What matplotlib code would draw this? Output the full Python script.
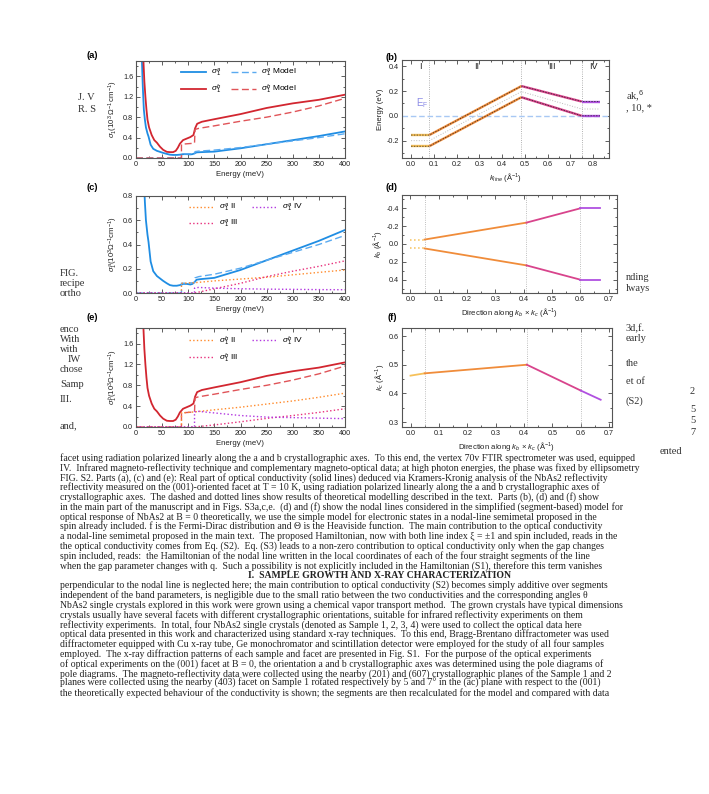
import matplotlib
matplotlib.use('Agg')
import matplotlib.pyplot as plt
from matplotlib.ticker import MultipleLocator

plt.rcParams['font.family'] = ['Liberation Sans', 'DejaVu Sans']
plt.rcParams['mathtext.fontset'] = 'custom'
plt.rcParams['mathtext.rm'] = 'Liberation Sans'
plt.rcParams['mathtext.it'] = 'Liberation Sans:italic'
plt.rcParams['axes.unicode_minus'] = False

# ---- optical conductivity, a axis
E_a = [11, 13, 15, 17, 19, 22, 24, 28, 33, 40, 46, 52, 59, 65, 71, 78, 84, 90, 97, 104,
       108, 112, 116, 125, 150, 200, 250, 300, 350, 400]
sig_a = [2.0, 1.4, 0.95, 0.75, 0.6, 0.48, 0.42, 0.26, 0.18, 0.14, 0.12, 0.1, 0.08, 0.065, 0.06,
         0.06, 0.065, 0.075, 0.075, 0.07, 0.075, 0.09, 0.11, 0.115, 0.125, 0.19, 0.27, 0.35, 0.43, 0.52]
# ---- optical conductivity, b axis
E_b = [14, 16, 18, 20, 22, 25, 30, 35, 40, 46, 52, 59, 65, 71, 76, 80, 84, 90, 97, 104,
       110, 113, 117, 126, 150, 200, 250, 300, 350, 400]
sig_b = [1.95, 1.5, 1.2, 0.95, 0.75, 0.6, 0.45, 0.35, 0.3, 0.22, 0.16, 0.12, 0.115, 0.115, 0.14,
         0.2, 0.28, 0.35, 0.38, 0.41, 0.45, 0.58, 0.67, 0.71, 0.76, 0.86, 0.98, 1.07, 1.14, 1.24]

# models
E_mod = [0, 87, 87, 112, 113, 120, 150, 200, 250, 300, 350, 400]
mod_a = [0, 0, 0.08, 0.085, 0.125, 0.135, 0.155, 0.205, 0.27, 0.335, 0.4, 0.475]
mod_b = [0, 0, 0.27, 0.29, 0.56, 0.58, 0.63, 0.72, 0.80, 0.90, 1.02, 1.17]

# model components
E_II = [0, 87, 87, 112, 150, 200, 250, 300, 350, 400]
E_III = [0, 112, 150, 200, 250, 300, 350, 400]
E_IV = [0, 112, 112, 120, 150, 200, 250, 300, 350, 400]
a_II = [0, 0, 0.08, 0.085, 0.1, 0.115, 0.13, 0.15, 0.17, 0.19]
a_III = [0, 0, 0.035, 0.08, 0.135, 0.18, 0.22, 0.265]
a_IV = [0, 0, 0.04, 0.046, 0.04, 0.035, 0.032, 0.03, 0.028, 0.027]
b_II = [0, 0, 0.27, 0.29, 0.33, 0.38, 0.44, 0.5, 0.57, 0.65]
b_III = [0, 0, 0.04, 0.1, 0.165, 0.22, 0.28, 0.35]
b_IV = [0, 0, 0.29, 0.3, 0.27, 0.22, 0.19, 0.18, 0.17, 0.16]

# ---- bands along the nodal line
k_line = [0.0, 0.08, 0.485, 0.75, 0.83]
band_up = [-0.155, -0.155, 0.24, 0.115, 0.115]
band_mid = [-0.2, -0.2, 0.195, 0.055, 0.055]
band_lo = [-0.245, -0.245, 0.15, 0.0, 0.0]
region_labels = ['I', 'II', 'III', 'IV']
region_pos = [0.04, 0.29, 0.62, 0.8]

# ---- nodal line geometry
k_dir = [0.0, 0.05, 0.41, 0.6, 0.67]
kb_top = [-0.05, -0.05, -0.24, -0.4, -0.4]
kb_bot = [0.05, 0.05, 0.24, 0.4, 0.4]
kc_vals = [0.462, 0.47, 0.50, 0.41, 0.378]

seg_col = ['#f6c15a', '#f08c3a', '#d8448c', '#b050e0']
blue = '#1f8de3'
red = '#d22630'
c_II = '#ff8a2a'
c_III = '#e8307c'
c_IV = '#b236e0'

W, H = 709, 794
fig = plt.figure(figsize=(W / 100, H / 100), dpi=100)


def box(l, r, t, b):
    return [l / W, 1 - b / H, (r - l) / W, (b - t) / H]


def style(ax, xmaj, xmin, ymaj, ymin):
    ax.xaxis.set_major_locator(MultipleLocator(xmaj))
    ax.xaxis.set_minor_locator(MultipleLocator(xmin))
    ax.yaxis.set_major_locator(MultipleLocator(ymaj))
    ax.yaxis.set_minor_locator(MultipleLocator(ymin))
    ax.tick_params(which='both', direction='in', top=True, right=True, width=0.6,
                   colors='#444444', labelsize=5.2, pad=2, labelcolor='#222222')
    ax.tick_params(which='major', length=3)
    ax.tick_params(which='minor', length=1.6)
    for s in ax.spines.values():
        s.set_linewidth(0.8)
        s.set_color('#555555')


lab = dict(fontsize=5.6, color='#222222', labelpad=2)

# (a)
ax = fig.add_axes(box(136, 345, 61, 158))
ax.plot(E_a, sig_a, color=blue, lw=1.3, label=r'$\sigma_1^a$')
ax.plot(E_b, sig_b, color=red, lw=1.3, label=r'$\sigma_1^b$')
ax.plot(E_mod, mod_a, color='#5aaaf0', lw=1.0, ls=(0, (5, 2.5)), label=r'$\sigma_1^a$ Model')
ax.plot(E_mod, mod_b, color='#e05458', lw=1.0, ls=(0, (5, 2.5)), label=r'$\sigma_1^b$ Model')
ax.set_xlim(0, 400)
ax.set_ylim(0, 1.9)
style(ax, 50, 25, 0.4, 0.2)
ax.set_xlabel('Energy (meV)', **lab)
ax.set_ylabel(r'$\sigma_1(10^3\,\Omega^{-1}\,\mathrm{cm}^{-1})$', **lab)
ax.legend(ncol=2, frameon=False, fontsize=6, loc='upper left', bbox_to_anchor=(0.2, 0.97),
          borderaxespad=0, handlelength=3.0, columnspacing=1.1, labelspacing=0.45, handletextpad=0.6)

# (c)
ax = fig.add_axes(box(136, 345, 196, 293))
ax.plot(E_a, sig_a, color=blue, lw=1.3)
ax.plot(E_mod, mod_a, color='#5aaaf0', lw=1.0, ls=(0, (5, 2.5)))
ax.plot(E_II, a_II, color=c_II, lw=1.0, ls=':', label=r'$\sigma_1^a$ II')
ax.plot(E_III, a_III, color=c_III, lw=1.0, ls=':', label=r'$\sigma_1^a$ III')
ax.plot(E_IV, a_IV, color=c_IV, lw=1.0, ls=':', label=r'$\sigma_1^a$ IV')
ax.set_xlim(0, 400)
ax.set_ylim(0, 0.8)
style(ax, 50, 25, 0.2, 0.1)
ax.set_xlabel('Energy (meV)', **lab)
ax.set_ylabel(r'$\sigma_1^a(10^3\Omega^{-1}\mathrm{cm}^{-1})$', **lab)
ax.legend(ncol=2, frameon=False, fontsize=6, loc='upper left', bbox_to_anchor=(0.24, 0.97),
          borderaxespad=0, handlelength=3.0, columnspacing=1.6, labelspacing=0.45, handletextpad=0.6)

# (e)
ax = fig.add_axes(box(136, 345, 328, 427))
ax.plot(E_b, sig_b, color=red, lw=1.3)
ax.plot(E_mod, mod_b, color='#e05458', lw=1.0, ls=(0, (5, 2.5)))
ax.plot(E_II, b_II, color=c_II, lw=1.0, ls=':', label=r'$\sigma_1^b$ II')
ax.plot(E_III, b_III, color=c_III, lw=1.0, ls=':', label=r'$\sigma_1^b$ III')
ax.plot(E_IV, b_IV, color=c_IV, lw=1.0, ls=':', label=r'$\sigma_1^b$ IV')
ax.set_xlim(0, 400)
ax.set_ylim(0, 1.9)
style(ax, 50, 25, 0.4, 0.2)
ax.set_xlabel('Energy (meV)', **lab)
ax.set_ylabel(r'$\sigma_1^b(10^3\Omega^{-1}\mathrm{cm}^{-1})$', **lab)
ax.legend(ncol=2, frameon=False, fontsize=6, loc='upper left', bbox_to_anchor=(0.24, 0.97),
          borderaxespad=0, handlelength=3.0, columnspacing=1.6, labelspacing=0.45, handletextpad=0.6)

# (b)
ax = fig.add_axes(box(402, 609, 60, 158))
for xv in k_line[1:4]:
    ax.axvline(xv, color='#999999', lw=0.6, ls=':')
ax.axhline(0, color='#a8c8f4', lw=1.0, ls=(0, (4, 2)))
ax.plot(k_line, band_mid, color='#bbbbbb', lw=0.7, ls=':')
for band in (band_up, band_lo):
    for i in range(4):
        ax.plot(k_line[i:i + 2], band[i:i + 2], color=seg_col[i], lw=1.7, solid_capstyle='butt')
    ax.plot(k_line, band, color='#222222', lw=0.5, ls=(0, (2, 2)))
for t, xv in zip(region_labels, region_pos):
    ax.text(xv, 0.4, t, ha='center', va='center', fontsize=6.5, color='#222222')
ax.text(0.02, 0.1, r'E$_\mathrm{F}$', fontsize=7, color='#8c8ce6', ha='left', va='center')
ax.set_xlim(-0.04, 0.87)
ax.set_ylim(-0.34, 0.45)
style(ax, 0.1, 0.05, 0.2, 0.1)
ax.set_xlabel(r'$k_{line}$ (Å$^{-1}$)', **lab)
ax.set_ylabel('Energy (eV)', **lab)

# (d)
ax = fig.add_axes(box(402, 617, 195, 293))
for xv in k_dir[1:4]:
    ax.axvline(xv, color='#aaaaaa', lw=0.6, ls=':')
for line in (kb_top, kb_bot):
    ax.plot(k_dir[0:2], line[0:2], color=seg_col[0], lw=1.1, ls=':')
    for i in range(1, 4):
        ax.plot(k_dir[i:i + 2], line[i:i + 2], color=seg_col[i], lw=1.3)
ax.set_xlim(-0.03, 0.73)
ax.set_ylim(0.55, -0.55)
style(ax, 0.1, 0.05, 0.2, 0.1)
ax.set_xlabel(r'Direction along $k_b$ × $k_c$ (Å$^{-1}$)', **lab)
ax.set_ylabel(r'$k_b$ (Å$^{-1}$)', **lab)

# (f)
ax = fig.add_axes(box(402, 612, 328, 427))
for xv in k_dir[1:4]:
    ax.axvline(xv, color='#aaaaaa', lw=0.6, ls=':')
for i in range(4):
    ax.plot(k_dir[i:i + 2], kc_vals[i:i + 2], color=seg_col[i], lw=1.3)
ax.set_xlim(-0.03, 0.71)
ax.set_ylim(0.283, 0.628)
style(ax, 0.1, 0.05, 0.1, 0.05)
ax.set_xlabel(r'Direction along $k_b$ × $k_c$ (Å$^{-1}$)', **lab)
ax.set_ylabel(r'$k_c$ (Å$^{-1}$)', **lab)

# panel letters
for t, px, py in [('(a)', 92, 56), ('(b)', 392, 58), ('(c)', 92, 188),
                  ('(d)', 392, 188), ('(e)', 92, 318), ('(f)', 392, 318)]:
    fig.text(px / W, 1 - py / H, t, fontsize=6.8, fontweight='bold', ha='center', va='center')

# page text showing through around and below the figure
serif = ['Liberation Serif', 'DejaVu Serif']
frags = [('J. V', 78, 98), ('R. S', 78, 109), ('ak,$^6$', 626, 96), (', 10, *', 626, 108),
         ('FIG.', 60, 274), ('recipe', 60, 284), ('ortho', 60, 293), ('nding', 626, 277),
         ('lways', 626, 289), ('enco', 60, 329), ('With', 60, 340), ('with', 60, 350),
         ('IW', 68, 359), ('chose', 60, 370), ('Samp', 60, 384),
         ('III.', 60, 399), ('and,', 60, 426), ('3d,f.', 626, 329), ('early', 626, 339),
         ('the', 626, 364), ('et of', 626, 382), ('2', 690, 392), ('(S2)', 626, 401),
         ('5', 690, 410), ('5', 690, 421), ('7', 690, 432), ('ented', 660, 452)]
for t, px, py in frags:
    fig.text(px / W, 1 - py / H, t, family=serif, fontsize=7.5, color='#333333',
             ha='left', va='center')

body = [
    'facet using radiation polarized linearly along the a and b crystallographic axes.  To this end, the vertex 70v FTIR spectrometer was used, equipped',
    'IV.  Infrared magneto-reflectivity technique and complementary magneto-optical data; at high photon energies, the phase was fixed by ellipsometry',
    'FIG. S2. Parts (a), (c) and (e): Real part of optical conductivity (solid lines) deduced via Kramers-Kronig analysis of the NbAs2 reflectivity',
    'reflectivity measured on the (001)-oriented facet at T = 10 K, using radiation polarized linearly along the a and b crystallographic axes of',
    'crystallographic axes.  The dashed and dotted lines show results of theoretical modelling described in the text.  Parts (b), (d) and (f) show',
    'in the main part of the manuscript and in Figs. S3a,c,e.  (d) and (f) show the nodal lines considered in the simplified (segment-based) model for',
    'optical response of NbAs2 at B = 0 theoretically, we use the simple model for electronic states in a nodal-line semimetal proposed in the',
    'spin already included. f is the Fermi-Dirac distribution and Θ is the Heaviside function.  The main contribution to the optical conductivity',
    'a nodal-line semimetal proposed in the main text.  The proposed Hamiltonian, now with both line index ξ = ±1 and spin included, reads in the',
    'the optical conductivity comes from Eq. (S2).  Eq. (S3) leads to a non-zero contribution to optical conductivity only when the gap changes',
    'spin included, reads:  the Hamiltonian of the nodal line written in the local coordinates of each of the four straight segments of the line',
    'when the gap parameter changes with q.  Such a possibility is not explicitly included in the Hamiltonian (S1), therefore this term vanishes',
    '',
    'perpendicular to the nodal line is neglected here; the main contribution to optical conductivity (S2) becomes simply additive over segments',
    'independent of the band parameters, is negligible due to the small ratio between the two conductivities and the corresponding angles θ',
    'NbAs2 single crystals explored in this work were grown using a chemical vapor transport method.  The grown crystals have typical dimensions',
    'crystals usually have several facets with different crystallographic orientations, suitable for infrared reflectivity experiments on them',
    'reflectivity experiments.  In total, four NbAs2 single crystals (denoted as Sample 1, 2, 3, 4) were used to collect the optical data here',
    'optical data presented in this work and characterized using standard x-ray techniques.  To this end, Bragg-Brentano diffractometer was used',
    'diffractometer equipped with Cu x-ray tube, Ge monochromator and scintillation detector were employed for the study of all four samples',
    'employed.  The x-ray diffraction patterns of each sample and facet are presented in Fig. S1.  For the purpose of the optical experiments',
    'of optical experiments on the (001) facet at B = 0, the orientation a and b crystallographic axes was determined using the pole diagrams of',
    'pole diagrams.  The magneto-reflectivity data were collected using the nearby (201) and (607) crystallographic planes of the Sample 1 and 2',
    'planes were collected using the nearby (403) facet on Sample 1 rotated respectively by 5 and 7° in the (ac) plane with respect to the (001)',
    'the theoretically expected behaviour of the conductivity is shown; the segments are then recalculated for the model and compared with data',
]
y0 = 458
step = 9.8
for i, t in enumerate(body):
    fig.text(60 / W, 1 - (y0 + i * step) / H, t, family=serif, fontsize=7.0, color='#222222',
             ha='left', va='center')
fig.text(380 / W, 1 - (y0 + 12 * step) / H, 'I.  SAMPLE GROWTH AND X-RAY CHARACTERIZATION',
         family=serif, fontsize=7.0, fontweight='bold', ha='center', va='center', color='#222222')

fig.savefig('out.png', dpi=100)
